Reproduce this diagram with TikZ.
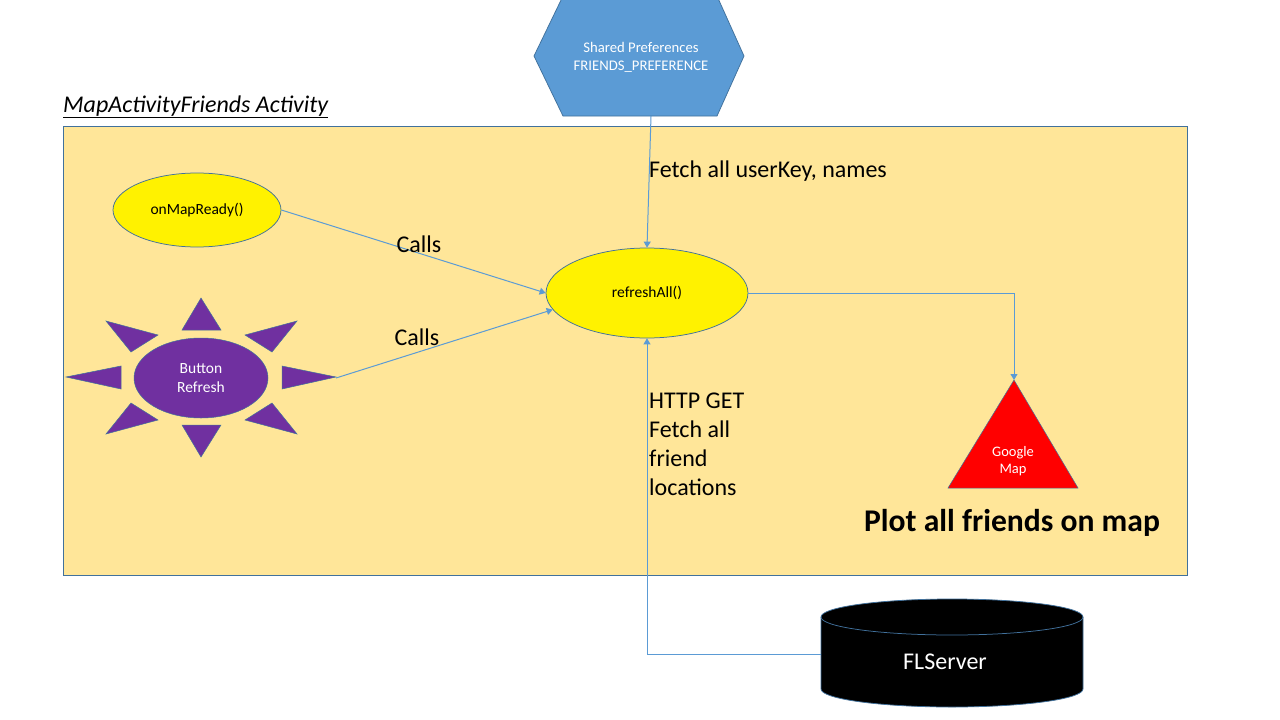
\documentclass[tikz,border=0pt]{standalone}
\usepackage{fontspec}
\setmainfont{Carlito}
\usetikzlibrary{shapes.geometric,arrows.meta}
\definecolor{frameFill}{HTML}{FFE699}
\definecolor{edgeBlue}{HTML}{41719C}
\definecolor{connBlue}{HTML}{5B9BD5}
\definecolor{hexBlue}{HTML}{5B9BD5}
\definecolor{sunPurple}{HTML}{7030A0}
\tikzset{
  conn/.style={draw=connBlue, line width=1pt, -{Triangle[width=7pt,length=6pt]}},
  lbl/.style={font=\fontsize{24}{29}\selectfont, text=black, inner sep=0pt},
  smalltxt/.style={font=\fontsize{15.5}{18.5}\selectfont, align=center, inner sep=0pt},
  yellowell/.style={ellipse, draw=edgeBlue, line width=0.75pt, fill=yellow, inner sep=0pt},
  sunray/.style={fill=sunPurple, draw=edgeBlue, line width=0.5pt},
}
\begin{document}
\begin{tikzpicture}[x=1pt,y=-1pt]
\useasboundingbox (0,0) rectangle (1280,720);
\fill[white] (0,0) rectangle (1280,720);
% frame
\draw[fill=frameFill, draw=edgeBlue, line width=0.75pt] (63,126) rectangle (1187,575);
\node[anchor=base west, inner sep=0pt, font=\fontsize{24}{29}\selectfont\itshape] (title) at (63,112) {\underline{MapActivityFriends Activity}};
% hexagon
\draw[fill=hexBlue, draw=edgeBlue, line width=0.75pt] (563,-4) -- (717,-4) -- (744,56) -- (717,116) -- (563,116) -- (534,56) -- cycle;
\node[smalltxt, text=white, font=\fontsize{14.7}{18}\selectfont] (hex) at (641,57) {Shared Preferences\\FRIENDS\_PREFERENCE};
\coordinate (hexb) at (651,116);
% ellipses
\node[yellowell, minimum width=168pt, minimum height=74pt] (omr) at (197,210) {};
\node[smalltxt] at (omr) {onMapReady()};
\node[yellowell, minimum width=202pt, minimum height=90pt] (ref) at (647,293) {};
\node[smalltxt] at (ref) {refreshAll()};
% sun
\draw[sunray] (201,298) -- (221,330) -- (182,330) -- cycle;
\draw[sunray] (201,457) -- (221,425) -- (182,425) -- cycle;
\draw[sunray] (66,377) -- (121,366) -- (121,389) -- cycle;
\draw[sunray] (336,377) -- (282,366) -- (282,389) -- cycle;
\draw[sunray] (106,321) -- (158,335) -- (131,352) -- cycle;
\draw[sunray] (297,321) -- (245,335) -- (272,352) -- cycle;
\draw[sunray] (106,434) -- (131,403) -- (158,420) -- cycle;
\draw[sunray] (297,434) -- (272,403) -- (245,420) -- cycle;
\node[ellipse, fill=sunPurple, draw=edgeBlue, line width=0.5pt, minimum width=134pt, minimum height=80pt, inner sep=0pt] (btn) at (201,378) {};
\node[smalltxt, text=white] at (btn) {Button\\Refresh};
\coordinate (sunr) at (336,378);
% triangle
\draw[fill=red, draw=edgeBlue, line width=0.5pt] (1014,380) -- (1078,488) -- (948,488) -- cycle;
\coordinate (gmtop) at (1014,380);
\node[smalltxt, text=white, font=\fontsize{14.5}{17}\selectfont] (gm) at (1013,461) {Google\\Map};
\node[inner sep=0pt, font=\fontsize{31.6}{36}\selectfont\bfseries] (plot) at (1012,523) {Plot all friends on map};
% cylinder
\fill[black] (821,617) -- (821,689) arc[start angle=180, end angle=0, x radius=131, y radius=18] -- (1083,617) arc[start angle=0, end angle=-180, x radius=131, y radius=18] -- cycle;
\draw[edgeBlue, line width=0.75pt] (821,617) -- (821,689) arc[start angle=180, end angle=0, x radius=131, y radius=18] -- (1083,617);
\draw[edgeBlue, line width=0.75pt] (952,617) ellipse[x radius=131, y radius=18];
\node[inner sep=0pt, text=white, font=\fontsize{24}{29}\selectfont] (fls) at (945,662) {FLServer};
\coordinate (flsw) at (821,654);
% connectors
\draw[conn] (hexb) -- (ref.north);
\draw[conn] (omr.east) -- (ref.west);
\draw[conn] (sunr) -- (ref.190);
\draw[conn] (ref.east) -| (gmtop);
\draw[conn] (flsw) -| (ref.south);
% labels
\node[lbl, anchor=west] (l1) at (649,171) {Fetch all userKey, names};
\node[lbl] (l2) at (419,244) {Calls};
\node[lbl] (l3) at (417,337) {Calls};
\node[lbl, anchor=north west, align=left] (l4) at (649,393) {HTTP GET\\Fetch all\\friend\\locations};
\end{tikzpicture}
\end{document}
